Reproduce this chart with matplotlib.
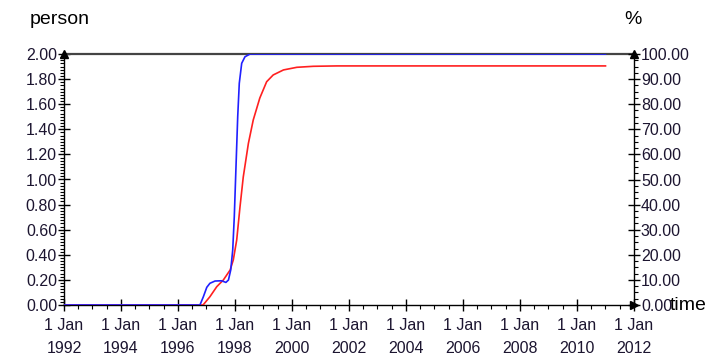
import matplotlib.pyplot as plt
import numpy as np
from matplotlib.ticker import MultipleLocator, FormatStrFormatter

plt.rcParams['font.family'] = ['Liberation Sans', 'DejaVu Sans']

# blue series (person)
blue_t = [1992.0, 1996.77, 1996.89, 1997.01, 1997.12, 1997.30, 1997.53, 1997.68,
          1997.77, 1997.85, 1997.92, 1997.975, 1998.035, 1998.095, 1998.15,
          1998.235, 1998.35, 1998.53, 2011.0]
blue_v = [0.0, 0.0, 0.066, 0.141, 0.173, 0.191, 0.193, 0.180,
          0.199, 0.279, 0.438, 0.703, 1.102, 1.500, 1.766,
          1.926, 1.978, 2.0, 2.0]

# red series
red_t = [1992.0, 1996.88, 1997.12, 1997.36, 1997.59, 1997.83, 1997.94, 1998.06,
         1998.175, 1998.29, 1998.47, 1998.64, 1998.87, 1999.11, 1999.34, 1999.70,
         2000.17, 2000.75, 2001.57, 2011.0]
red_v = [0.0, 0.0, 0.066, 0.146, 0.199, 0.279, 0.359, 0.518,
         0.781, 1.020, 1.288, 1.474, 1.649, 1.779, 1.833, 1.873,
         1.894, 1.902, 1.905, 1.905]

year_ticks = list(range(1992, 2013, 2))
year_labels = [f'1 Jan\n{y}' for y in year_ticks]

txt = '#1c1530'
fs = 11.5

fig = plt.figure(figsize=(7.18, 3.61), dpi=100)
ax = fig.add_axes([64/718, 1-305/361, 570/718, 251/361])

ax.plot(red_t, red_v, color='#ff2020', lw=1.2, zorder=3)
ax.plot(blue_t, blue_v, color='#2020ff', lw=1.2, zorder=4)

ax.set_xlim(1992, 2012)
ax.set_ylim(0, 2)
ax.set_xticks(year_ticks)
ax.set_xticklabels(year_labels, linespacing=1.7)
ax.xaxis.set_minor_locator(MultipleLocator(0.5))
ax.yaxis.set_major_locator(MultipleLocator(0.2))
ax.yaxis.set_minor_locator(MultipleLocator(0.025))
ax.yaxis.set_major_formatter(FormatStrFormatter('%.2f'))

ax.tick_params(which='major', direction='inout', length=8, width=1, labelsize=fs,
               labelcolor=txt, pad=1)
ax.tick_params(which='minor', direction='out', length=3, width=0.8)
ax.tick_params(axis='x', which='major', pad=5)

for s in ['left', 'right', 'bottom', 'top']:
    ax.spines[s].set_color('black')
    ax.spines[s].set_linewidth(1.0)
ax.spines['top'].set_color('#444444')
ax.spines['top'].set_linewidth(1.6)

ax2 = ax.twinx()
ax2.set_ylim(0, 100)
ax2.yaxis.set_major_locator(MultipleLocator(10))
ax2.yaxis.set_minor_locator(MultipleLocator(2.5))
ax2.yaxis.set_major_formatter(FormatStrFormatter('%.2f'))
ax2.tick_params(which='major', direction='inout', length=8, width=1, labelsize=fs,
                labelcolor=txt, pad=1)
ax2.tick_params(which='minor', direction='out', length=3, width=0.8)
for s in ax2.spines.values():
    s.set_visible(False)

# arrow heads on the axes
ax.plot([0], [1], marker='^', color='black', ms=6, transform=ax.transAxes, clip_on=False, zorder=6)
ax.plot([1], [1], marker='^', color='black', ms=6, transform=ax.transAxes, clip_on=False, zorder=6)
ax.plot([1], [0], marker='>', color='black', ms=6, transform=ax.transAxes, clip_on=False, zorder=6)

fig.text(30/718, 1-19/361, 'person', fontsize=14, color='black', va='center', ha='left')
fig.text(633/718, 1-19/361, '%', fontsize=14, color='black', va='center', ha='center')
fig.text(670/718, 1-306/361, 'time', fontsize=14, color='black', va='center', ha='left')

fig.savefig('out.png', dpi=100)
